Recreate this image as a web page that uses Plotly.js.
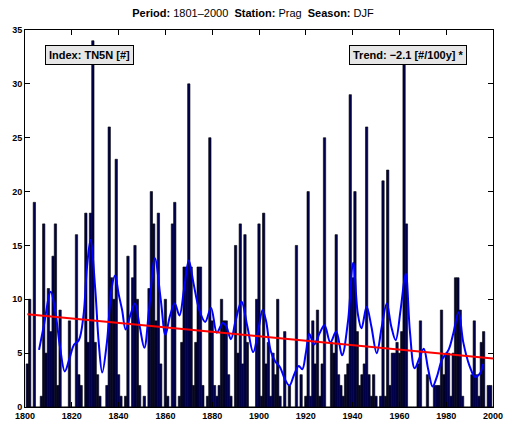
<!DOCTYPE html>
<html>
<head>
<meta charset="utf-8">
<script src="https://cdn.plot.ly/plotly-3.0.1.min.js"></script>
<style>html,body{margin:0;padding:0;background:#fff;}#chart{width:506px;height:423px;}</style>
</head>
<body>
<div id="chart"></div>
<script>
// Years 1801..2000
const years = [];
for (let y = 1801; y <= 2000; y++) years.push(y);

// TN5N counts, DJF, Prag
const counts = [
 4,10,0,19,0,0,1,17,5,11,      // 1801-1810
 7,14,17,2,9,0,0,0,8,0,        // 1811-1820
 0,16,3,2,0,18,6,18,34,6,      // 1821-1830
 3,1,0,0,2,26,12,10,23,3,      // 1831-1840
 1,0,1,14,0,12,15,10,2,0,      // 1841-1850
 1,0,11,20,17,8,18,4,0,10,     // 1851-1860
 1,0,17,19,0,1,6,13,13,30,     // 1861-1870
 13,2,6,13,13,2,0,1,25,8,      // 1871-1880
 2,1,2,10,8,8,3,1,0,15,        // 1881-1890
 5,17,4,16,6,0,0,0,10,17,      // 1891-1900
 1,18,4,6,1,5,3,10,1,0,        // 1901-1910
 7,0,2,0,0,15,0,3,0,1,         // 1911-1920
 20,1,8,4,9,1,4,25,0,0,        // 1921-1930
 6,5,16,3,2,1,3,4,29,12,       // 1931-1940
 20,7,2,3,4,26,3,1,3,1,        // 1941-1950
 0,1,21,1,22,2,5,5,6,5,        // 1951-1960
 7,32,17,0,0,0,0,4,8,0,        // 1961-1970
 0,3,0,0,2,2,2,9,3,5,          // 1971-1980
 5,1,5,12,12,9,1,0,0,0,        // 1981-1990
 3,8,3,1,6,7,0,2,2,0           // 1991-2000
];

// Smoothed curve
const smoothYears = [1806,1808,1811,1813,1815,1817,1819,1821,1823,1825,1826.5,1828,1830,1831.5,1833,1835,1837,1838.5,1840,1841.5,1843,1845,1847,1849,1851,1853,1855.5,1858,1860,1862,1864,1866,1868,1870,1872,1874.5,1877,1879.5,1882,1884.5,1886,1888,1890,1892.5,1895,1897.5,1900,1901.5,1903,1905,1907,1909,1911,1913,1915,1917,1918.5,1920,1921.5,1923.5,1926,1928,1930.5,1933,1935.5,1938,1940.3,1942.2,1943.8,1946,1948,1950.3,1952.5,1954.6,1956.5,1958.4,1960.5,1962.7,1964.5,1966.5,1968.5,1970.4,1972.3,1974.2,1976,1978.2,1981,1983,1985.3,1987.3,1990,1992.3,1994.4,1995.8];
const smoothVals  = [5.3,7.5,10.7,8.8,5.5,3.3,4.5,5.8,6.2,8.5,13,15.5,11,6,3.2,6,11,12.2,10.5,9,7.2,8.5,9.6,7.5,5.5,9,13.8,10,6.7,8.5,9.6,8.5,11,13.6,11.5,9,7.9,9.2,6.9,7.8,7.5,6.3,8,9.8,7.5,5.1,7.5,9,8,5.2,4.2,3.7,2.6,2,3,3.8,3.5,5,6.8,5.8,6.9,7.6,6.0,7.0,4.8,7.9,13.4,8.7,7.3,9.3,7.5,5,7.5,9.6,7.5,6.2,9,12.4,7,3.6,4.5,5.4,3.5,1.9,2.8,4.4,5.3,6.8,8.8,6,3.8,2.8,3.1,4];

// Linear trend end points
const trendYears = [1801, 2000];
const trendVals = [8.6, 4.5];

const xTicks = [1800,1820,1840,1860,1880,1900,1920,1940,1960,1980,2000];
const yTicks = [0,5,10,15,20,25,30,35];

const FONT = 'Liberation Sans, Arial, Helvetica, sans-serif';

const data = [
  {type:'bar', x:years, y:counts, width:1,
   marker:{color:'#00004d', line:{color:'#000000', width:0.6}}, hoverinfo:'x+y'},
  {type:'scatter', mode:'lines', x:smoothYears, y:smoothVals,
   line:{color:'#0000ff', width:2, shape:'spline', smoothing:1}},
  {type:'scatter', mode:'lines', x:trendYears, y:trendVals,
   line:{color:'#ff0000', width:2}}
];

const axisCommon = {
  showline:true, linecolor:'#000', linewidth:1, mirror:'ticks',
  ticks:'inside', ticklen:5, tickwidth:1, tickcolor:'#000',
  showgrid:false, zeroline:false,
  tickfont:{family:FONT, size:9, color:'#000', weight:'bold'}
};

const layout = {
  width:506, height:423,
  margin:{l:25, r:13, t:30, b:16, pad:0},
  paper_bgcolor:'#fff', plot_bgcolor:'#fff',
  showlegend:false,
  bargap:0,
  title:{text:'<b>Period:</b> 1801–2000  <b>Station:</b> Prag  <b>Season:</b> DJF',
         font:{family:FONT, size:11, color:'#000'}, x:0.5, xanchor:'center',
         y:0.969, yanchor:'middle'},
  xaxis:Object.assign({}, axisCommon, {range:[1800,2000], tickvals:xTicks, ticktext:xTicks.map(String)}),
  yaxis:Object.assign({}, axisCommon, {range:[0,35], tickvals:yTicks, ticktext:yTicks.map(String)}),
  annotations:[
    {xref:'paper', yref:'paper', x:0.0427, y:0.960, xanchor:'left', yanchor:'top',
     text:'<b>Index: TN5N [#]</b>', showarrow:false,
     font:{family:FONT, size:11, color:'#000'}, bgcolor:'#e6e6e6', bordercolor:'#000', borderwidth:1, borderpad:3},
    {xref:'paper', yref:'paper', x:0.944, y:0.960, xanchor:'right', yanchor:'top',
     text:'<b>Trend: −2.1 [#/100y] *</b>', showarrow:false,
     font:{family:FONT, size:11, color:'#000'}, bgcolor:'#e6e6e6', bordercolor:'#000', borderwidth:1, borderpad:3}
  ]
};

Plotly.newPlot('chart', data, layout, {displayModeBar:false, staticPlot:true});
</script>
</body>
</html>
